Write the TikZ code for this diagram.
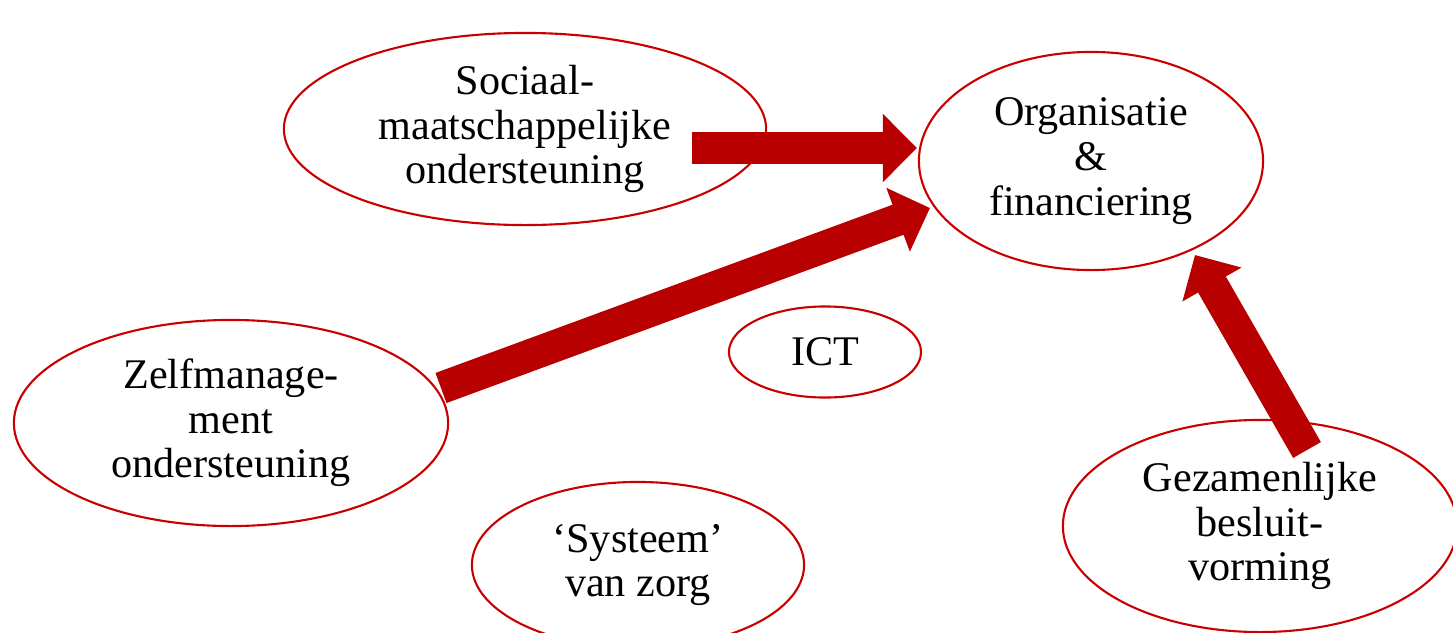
\documentclass[tikz,border=0pt]{standalone}
\usepackage{fontspec}
\setmainfont{Liberation Serif}
\usepackage{tikz}
\usetikzlibrary{shapes.geometric,arrows.meta}

\definecolor{ovalred}{RGB}{200,0,0}
\definecolor{arrowred}{RGB}{184,0,0}

\begin{document}
\begin{tikzpicture}[x=0.01cm,y=-0.01cm,
  oval/.style={ellipse,draw=ovalred,line width=0.6pt,inner sep=0pt,
    align=center,font=\fontsize{12}{12.7}\selectfont},
  bigarrow/.style={draw=arrowred,line width=0.32cm,
    -{Triangle[width=0.66cm,length=0.34cm,fill=arrowred]}}]

% Frame
\useasboundingbox (0,0) rectangle (1453,633);

% ---- Themes ----
\node[oval,minimum width=4.82cm,minimum height=1.92cm] (soc) at (525,129)
  {Sociaal-\\maatschappelijke\\ondersteuning};
\node[oval,minimum width=3.44cm,minimum height=2.18cm] (org) at (1091,161)
  {Organisatie\\\&\\financiering};
\node[oval,minimum width=4.34cm,minimum height=2.06cm] (zel) at (231,423)
  {Zelfmanage-\\ment\\ondersteuning};
\node[oval,minimum width=1.92cm,minimum height=0.91cm] (ict) at (825,352)
  {ICT};
\node[oval,minimum width=3.32cm,minimum height=1.66cm] (sys) at (638,565)
  {‘Systeem’\\van zorg};
\node[oval,minimum width=3.94cm,minimum height=2.12cm] (gez) at (1260,526)
  {Gezamenlijke\\besluit-\\vorming};

% ---- Arrows ----
\draw[bigarrow] ([shift={(167,19)}]soc.center) -- ([shift={(-174,-13)}]org.center);
\draw[bigarrow] ([shift={(210,-35)}]zel.center) -- ([shift={(-161,47)}]org.center);
\draw[bigarrow] ([shift={(47,-76)}]gez.center) -- ([shift={(104,94)}]org.center);

\end{tikzpicture}
\end{document}
